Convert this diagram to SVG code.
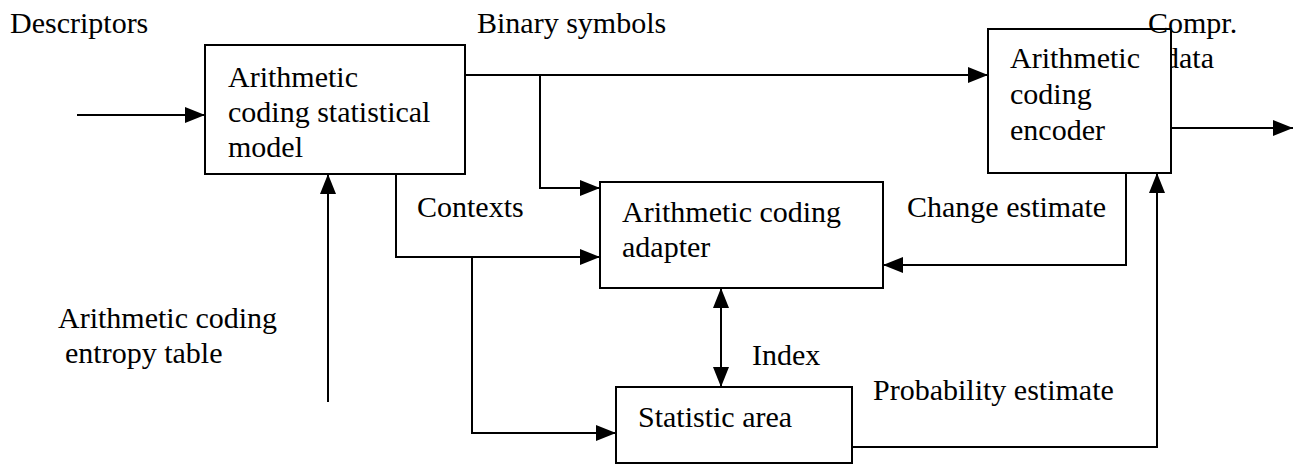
<svg xmlns="http://www.w3.org/2000/svg" width="1299" height="465" viewBox="0 0 1299 465" font-family="Liberation Serif, serif" font-size="30">
<style>
.box{fill:#fff;stroke:#000;stroke-width:2}
.ln{fill:none;stroke:#000;stroke-width:2}
</style>
<defs>
<marker id="ah" markerUnits="userSpaceOnUse" markerWidth="20" markerHeight="16" refX="20" refY="8" orient="auto-start-reverse" viewBox="0 0 20 16">
<path d="M0,0 L20,8 L0,16 z" fill="#000"/>
</marker>
</defs>
<rect width="1299" height="465" fill="#fff"/>
<g id="labels">
<text x="10" y="33">Descriptors</text>
<text x="477" y="33">Binary symbols</text>
<text x="1164" y="68">data</text>
<text x="417" y="217">Contexts</text>
<text x="907" y="217">Change estimate</text>
<text x="58" y="328">Arithmetic coding</text>
<text x="65" y="363">entropy table</text>
<text x="752" y="365">Index</text>
<text x="873" y="400">Probability estimate</text>
</g>
<g id="connectors">
<line class="ln" x1="77" y1="115" x2="205" y2="115" marker-end="url(#ah)"/>
<line class="ln" x1="465" y1="75" x2="988" y2="75" marker-end="url(#ah)"/>
<polyline class="ln" points="540,75 540,188 600,188" marker-end="url(#ah)"/>
<polyline class="ln" points="396,174 396,257 600,257" marker-end="url(#ah)"/>
<polyline class="ln" points="472,257 472,433 616,433" marker-end="url(#ah)"/>
<line class="ln" x1="328" y1="402" x2="328" y2="174" marker-end="url(#ah)"/>
<polyline class="ln" points="1126,173 1126,265 883,265" marker-end="url(#ah)"/>
<polyline class="ln" points="852,447 1157,447 1157,173" marker-end="url(#ah)"/>
<line class="ln" x1="721" y1="288" x2="721" y2="387" marker-start="url(#ah)" marker-end="url(#ah)"/>
<line class="ln" x1="1171" y1="128" x2="1293" y2="128" marker-end="url(#ah)"/>
</g>
<g id="model">
<rect class="box" x="205" y="45" width="260" height="129"/>
<text x="228" y="87">Arithmetic</text>
<text x="228" y="122">coding statistical</text>
<text x="228" y="157">model</text>
</g>
<g id="encoder">
<rect class="box" x="988" y="29" width="183" height="144"/>
<text x="1010" y="68">Arithmetic</text>
<text x="1010" y="104">coding</text>
<text x="1010" y="140">encoder</text>
</g>
<g id="compr">
<text x="1148" y="33">Compr.</text>
</g>
<g id="adapter">
<rect class="box" x="600" y="182" width="283" height="106"/>
<text x="622" y="222">Arithmetic coding</text>
<text x="622" y="257">adapter</text>
</g>
<g id="statistic">
<rect class="box" x="616" y="387" width="236" height="76"/>
<text x="638" y="427">Statistic area</text>
</g>
</svg>
